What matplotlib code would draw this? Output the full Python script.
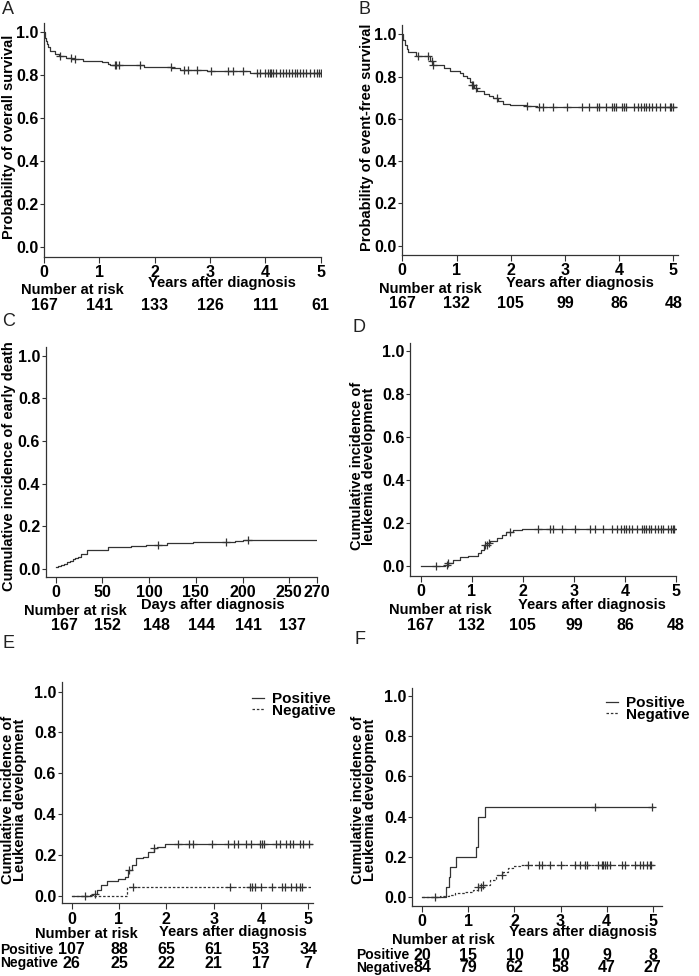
import numpy as np
import matplotlib
matplotlib.use("Agg")
import matplotlib.pyplot as plt
from matplotlib.transforms import blended_transform_factory

plt.rcParams['font.family'] = ['Liberation Sans', 'DejaVu Sans']

# ---------------- DATA ----------------
# Panel A: overall survival (years)
os_t = [0, 0.01, 0.02, 0.04, 0.06, 0.08, 0.1, 0.2, 0.28, 0.4, 0.5, 0.7, 1.05, 1.15, 1.2, 1.8, 2.3, 2.45, 2.95, 3.72]
os_s = [1.0, 0.99, 0.975, 0.96, 0.945, 0.93, 0.915, 0.9, 0.89, 0.88, 0.874, 0.868, 0.862, 0.855, 0.848, 0.84, 0.833, 0.826, 0.82, 0.812]
os_cens = [0.29, 0.49, 0.56, 1.28, 1.31, 1.35, 1.73, 2.29, 2.53, 2.6, 2.76, 3.01, 3.32, 3.42, 3.59, 3.84, 3.9, 3.99, 4.05, 4.08,
           4.1, 4.14, 4.2, 4.26, 4.32, 4.38, 4.43, 4.48, 4.53, 4.58, 4.63, 4.68, 4.73, 4.8, 4.87, 4.93, 4.97, 5.0]
os_end = 5.0

# Panel B: event-free survival (years)
efs_t = [0, 0.02, 0.05, 0.08, 0.11, 0.26, 0.51, 0.57, 0.76, 0.88, 1.06, 1.12, 1.19, 1.24, 1.28, 1.33, 1.37, 1.5, 1.6, 1.68, 1.77, 1.86, 1.99, 2.29, 2.48]
efs_s = [1.0, 0.975, 0.95, 0.93, 0.915, 0.897, 0.874, 0.855, 0.839, 0.826, 0.815, 0.805, 0.792, 0.775, 0.76, 0.745, 0.733, 0.718, 0.708, 0.7, 0.685, 0.669, 0.664, 0.66, 0.655]
efs_cens = [0.29, 0.48, 0.54, 0.57, 1.28, 1.31, 1.36, 1.75, 2.3, 2.53, 2.59, 2.77, 3.03, 3.31, 3.44, 3.59, 3.62, 3.76, 3.86, 3.9,
            3.95, 4.05, 4.08, 4.12, 4.27, 4.35, 4.4, 4.45, 4.5, 4.55, 4.6, 4.68, 4.75, 4.85, 4.93, 4.96, 5.0]
efs_end = 5.05

# Panel C: early death (days)
ed_t = [0, 3, 6, 9, 12, 15, 18, 21, 24, 27, 33, 56, 81, 97, 119, 147, 187, 192, 200]
ed_c = [0.006, 0.012, 0.018, 0.024, 0.03, 0.036, 0.043, 0.05, 0.056, 0.07, 0.088, 0.103, 0.107, 0.111, 0.119, 0.125, 0.127, 0.13, 0.133]
ed_cens = [110, 182, 206]
ed_end = 282

# Panel D: leukemia development (years)
ld_t = [0, 0.48, 0.54, 0.64, 0.77, 0.93, 1.13, 1.19, 1.23, 1.3, 1.36, 1.49, 1.59, 1.68, 1.81, 1.98]
ld_c = [0, 0.006, 0.012, 0.028, 0.04, 0.048, 0.059, 0.074, 0.098, 0.108, 0.116, 0.129, 0.144, 0.16, 0.167, 0.171]
ld_cens = [0.29, 0.51, 0.54, 1.26, 1.29, 1.34, 1.75, 2.3, 2.53, 2.6, 2.77, 3.03, 3.31, 3.42, 3.57, 3.74, 3.84, 3.92, 3.98,
           4.03, 4.08, 4.13, 4.23, 4.33, 4.37, 4.42, 4.48, 4.52, 4.59, 4.65, 4.7, 4.75, 4.85, 4.91, 4.95, 4.97]
ld_end = 5.0

# Panel E: by group (years)
e_pos_t = [0, 0.39, 0.46, 0.53, 0.63, 0.74, 0.92, 0.99, 1.13, 1.2, 1.27, 1.37, 1.51, 1.62, 1.73, 1.8, 1.97]
e_pos_c = [0, 0.005, 0.011, 0.028, 0.052, 0.072, 0.074, 0.08, 0.093, 0.126, 0.15, 0.183, 0.191, 0.216, 0.232, 0.24, 0.252]
e_pos_cens = [0.28, 0.49, 1.22, 1.73, 2.25, 2.49, 2.56, 2.96, 3.31, 3.42, 3.52, 3.68, 3.8, 3.99, 4.03, 4.06, 4.32, 4.4, 4.53,
              4.61, 4.68, 4.82, 4.89, 5.02]
e_neg_t = [0, 1.18]
e_neg_c = [0, 0.041]
e_neg_cens = [1.3, 3.35, 3.77, 3.82, 3.87, 4.01, 4.23, 4.44, 4.51, 4.63, 4.74, 4.82, 4.86]
e_end = 5.07

# Panel F: by group (years)
f_pos_t = [0, 0.52, 0.57, 0.61, 0.74, 1.16, 1.21, 1.36]
f_pos_c = [0, 0.05, 0.1, 0.15, 0.2, 0.25, 0.4, 0.45]
f_pos_cens = [0.27, 3.75, 4.98]
f_neg_t = [0, 0.38, 0.59, 0.7, 0.92, 1.1, 1.21, 1.32, 1.46, 1.61, 1.75, 1.86, 1.97, 2.12]
f_neg_c = [0, 0.005, 0.012, 0.023, 0.028, 0.036, 0.05, 0.061, 0.086, 0.11, 0.127, 0.144, 0.155, 0.16]
f_neg_cens = [1.21, 1.28, 1.32, 1.74, 2.3, 2.54, 2.59, 2.77, 3.02, 3.31, 3.42, 3.53, 3.58, 3.82, 3.89, 3.93, 3.96, 4.01,
              4.07, 4.33, 4.4, 4.62, 4.72, 4.8, 4.87, 4.94, 4.97]
f_end = 5.0

# Number at risk
risk_years = [0, 1, 2, 3, 4, 5]
risk_A = [167, 141, 133, 126, 111, 61]
risk_B = [167, 132, 105, 99, 86, 48]
risk_C_days = [9, 55, 108, 156, 206, 253]
risk_C = [167, 152, 148, 144, 141, 137]
risk_D = [167, 132, 105, 99, 86, 48]
risk_E_pos = [107, 88, 65, 61, 53, 34]
risk_E_neg = [26, 25, 22, 21, 17, 7]
risk_F_pos = [20, 15, 10, 10, 9, 8]
risk_F_neg = [84, 79, 62, 58, 47, 27]

yticks = [0.0, 0.2, 0.4, 0.6, 0.8, 1.0]
year_ticks = [0, 1, 2, 3, 4, 5]
day_tick_pos = [0, 50, 100, 150, 200, 250, 280]
day_tick_labels = ['0', '50', '100', '150', '200', '250', '270']

# ---------------- FIGURE ----------------
W, H = 699, 976
fig = plt.figure(figsize=(W / 100, H / 100), dpi=100)
LC = '#333333'
TICK_FS = 11.5
LAB_FS = 10.5
TXT_FS = 10.5
RISK_FS = 11.5


def fx(x):
    return x / W


def fy(y):
    return 1 - y / H


def make_ax(left, top, right, bottom, xlim, ylim):
    ax = fig.add_axes([fx(left), fy(bottom), (right - left) / W, (bottom - top) / H])
    ax.set_xlim(*xlim)
    ax.set_ylim(*ylim)
    for s in ['top', 'right']:
        ax.spines[s].set_visible(False)
    for s in ['left', 'bottom']:
        ax.spines[s].set_color(LC)
        ax.spines[s].set_linewidth(0.9)
    ax.set_yticks(yticks)
    ax.set_yticklabels([f"{v:.1f}" for v in yticks], fontsize=TICK_FS, fontweight='bold')
    ax.tick_params(axis='y', length=3, pad=1, color=LC)
    ax.tick_params(axis='x', length=4, pad=2, color=LC)
    return ax


def step(ax, t, v, end, ls='-'):
    ax.step(list(t) + [end], list(v) + [v[-1]], where='post', color=LC, lw=0.9, ls=ls)


def cens(ax, t, v, ct):
    idx = np.searchsorted(np.array(t), np.array(ct), side='right') - 1
    ax.plot(ct, np.array(v)[idx], ls='none', marker='+', ms=5.5, mew=0.9, color=LC)


def year_axis(ax):
    ax.set_xticks(year_ticks)
    ax.set_xticklabels([str(v) for v in year_ticks], fontsize=TICK_FS, fontweight='bold')


def ftext(x, y, s, **kw):
    kw.setdefault('fontsize', TXT_FS)
    kw.setdefault('fontweight', 'bold')
    kw.setdefault('ha', 'center')
    kw.setdefault('va', 'center')
    fig.text(fx(x), fy(y), s, **kw)


def risk_row(ax, xs, vals, y):
    tr = blended_transform_factory(ax.transData, fig.transFigure)
    for xv, n in zip(xs, vals):
        ax.text(xv, fy(y), str(n), transform=tr, ha='center', va='center',
                fontsize=RISK_FS, fontweight='bold', clip_on=False)


def panel_letter(x, y, s):
    fig.text(fx(x), fy(y), s, fontsize=13, ha='left', va='center', color='#222222')


# ---- Panel A ----
axA = make_ax(44, 23.3, 320.7, 257, (0, 5), (-0.045, 1.042))
year_axis(axA)
step(axA, os_t, os_s, os_end)
cens(axA, os_t, os_s, os_cens)
panel_letter(2, 10, 'A')
ftext(9, 137, 'Probability of overall survival', rotation=90, fontsize=LAB_FS)
ftext(222, 283, 'Years after diagnosis')
ftext(72, 290, 'Number at risk')
risk_row(axA, risk_years, risk_A, 305)

# ---- Panel B ----
axB = make_ax(402.3, 25, 678.3, 255, (0, 5.09), (-0.044, 1.044))
year_axis(axB)
step(axB, efs_t, efs_s, efs_end)
cens(axB, efs_t, efs_s, efs_cens)
panel_letter(359, 10, 'B')
ftext(367, 137, 'Probability of event-free survival', rotation=90, fontsize=LAB_FS)
ftext(580, 283, 'Years after diagnosis')
ftext(430, 289, 'Number at risk')
risk_row(axB, risk_years, risk_B, 303)

# ---- Panel C ----
axC = make_ax(45.7, 347, 317.3, 576.7, (-10.7, 280), (-0.038, 1.042))
axC.set_xticks(day_tick_pos)
axC.set_xticklabels(day_tick_labels, fontsize=TICK_FS, fontweight='bold')
step(axC, ed_t, ed_c, ed_end)
cens(axC, ed_t, ed_c, ed_cens)
panel_letter(2, 322, 'C')
ftext(9, 466, 'Cumulative incidence of early death', rotation=90, fontsize=LAB_FS)
ftext(213, 605, 'Days after diagnosis')
ftext(75, 611, 'Number at risk')
risk_row(axC, risk_C_days, risk_C, 625)

# ---- Panel D ----
axD = make_ax(410, 343.3, 676, 576, (-0.21, 5), (-0.047, 1.036))
year_axis(axD)
step(axD, ld_t, ld_c, ld_end)
cens(axD, ld_t, ld_c, ld_cens)
panel_letter(353, 327, 'D')
ftext(363, 466, 'Cumulative incidence of\nleukemia development', rotation=90, fontsize=LAB_FS,
      linespacing=0.85)
ftext(592, 605, 'Years after diagnosis')
ftext(440, 610, 'Number at risk')
risk_row(axD, risk_years, risk_D, 625)

# ---- Panel E ----
axE = make_ax(61.7, 682.3, 313.3, 903.3, (-0.21, 5.106), (-0.037, 1.046))
year_axis(axE)
step(axE, e_pos_t, e_pos_c, e_end)
step(axE, e_neg_t, e_neg_c, e_end, ls=(0, (2, 1.5)))
cens(axE, e_pos_t, e_pos_c, e_pos_cens)
cens(axE, e_neg_t, e_neg_c, e_neg_cens)
panel_letter(2, 643, 'E')
ftext(14, 800, 'Cumulative incidence of\nLeukemia development', rotation=90, fontsize=LAB_FS,
      linespacing=0.85)
ftext(233, 932, 'Years after diagnosis')
ftext(86, 934, 'Number at risk')
ftext(0, 950, 'Positive', ha='left', fontsize=10)
ftext(0, 963, 'Negative', ha='left', fontsize=10)
risk_row(axE, risk_years, risk_E_pos, 950)
risk_row(axE, risk_years, risk_E_neg, 963)
lineE_pos, = axE.plot([], [], color=LC, lw=0.9)
lineE_neg, = axE.plot([], [], color=LC, lw=0.9, ls=(0, (2, 1.5)))
axE.legend([lineE_pos, lineE_neg], ['Positive', 'Negative'], loc='upper left',
           bbox_to_anchor=(fx(252), fy(692)), bbox_transform=fig.transFigure,
           frameon=False, handlelength=0.8, handletextpad=0.5, labelspacing=-0.15,
           borderpad=0, borderaxespad=0, prop={'weight': 'bold', 'size': 11})

# ---- Panel F ----
axF = make_ax(412.3, 688.3, 661.7, 906, (-0.217, 5.196), (-0.043, 1.037))
year_axis(axF)
step(axF, f_pos_t, f_pos_c, f_end)
step(axF, f_neg_t, f_neg_c, f_end, ls=(0, (2, 1.5)))
cens(axF, f_pos_t, f_pos_c, f_pos_cens)
cens(axF, f_neg_t, f_neg_c, f_neg_cens)
panel_letter(355, 640, 'F')
ftext(364, 800, 'Cumulative incidence of\nLeukemia development', rotation=90, fontsize=LAB_FS,
      linespacing=0.85)
ftext(583, 932, 'Years after diagnosis')
ftext(443, 940, 'Number at risk')
ftext(356, 955, 'Positive', ha='left', fontsize=10)
ftext(356, 968, 'Negative', ha='left', fontsize=10)
risk_row(axF, risk_years, risk_F_pos, 955)
risk_row(axF, risk_years, risk_F_neg, 968)
lineF_pos, = axF.plot([], [], color=LC, lw=0.9)
lineF_neg, = axF.plot([], [], color=LC, lw=0.9, ls=(0, (2, 1.5)))
axF.legend([lineF_pos, lineF_neg], ['Positive', 'Negative'], loc='upper left',
           bbox_to_anchor=(fx(606), fy(696)), bbox_transform=fig.transFigure,
           frameon=False, handlelength=0.8, handletextpad=0.5, labelspacing=-0.15,
           borderpad=0, borderaxespad=0, prop={'weight': 'bold', 'size': 11})

fig.savefig('out.png', dpi=100)
